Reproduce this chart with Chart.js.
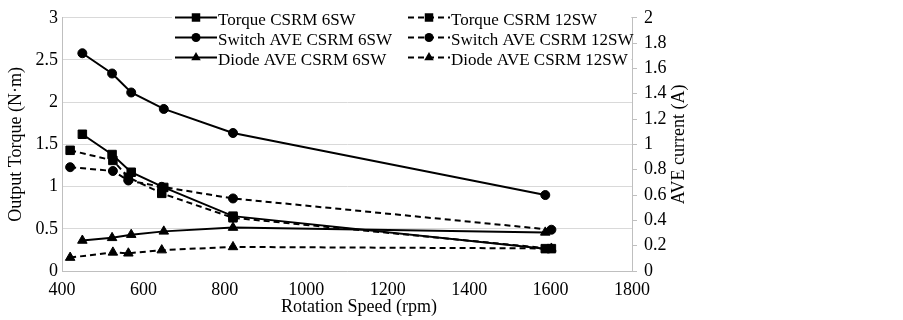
<!DOCTYPE html>
<html>
<head>
<meta charset="utf-8">
<script src="https://cdn.jsdelivr.net/npm/chart.js@4/dist/chart.umd.min.js"></script>
<style>
  html, body { margin: 0; padding: 0; background: #fff; }
  #wrap { width: 903px; height: 320px; }
</style>
</head>
<body>
<div id="wrap"><canvas id="torqueChart" width="903" height="320"></canvas></div>
<script>
  // rotation speeds (rpm)
  const speed6 = [450, 523, 570, 650, 820, 1587];
  const speed12 = [420, 525, 563, 645, 820, 1602];

  // output torque (N·m) - left axis
  const torque6 = [1.62, 1.38, 1.17, 0.99, 0.65, 0.265];
  const torque12 = [1.43, 1.31, 1.11, 0.92, 0.63, 0.265];

  // average currents (A) - right axis
  const switch6 = [1.72, 1.56, 1.41, 1.28, 1.09, 0.60];
  const switch12 = [0.82, 0.79, 0.715, 0.665, 0.573, 0.326];
  const diode6 = [0.241, 0.262, 0.287, 0.313, 0.343, 0.305];
  const diode12 = [0.106, 0.147, 0.14, 0.165, 0.19, 0.178];

  const seriesNames = [
    'Torque CSRM 6SW', 'Torque CSRM 12SW',
    'Switch AVE CSRM 6SW', 'Switch AVE CSRM 12SW',
    'Diode AVE CSRM 6SW', 'Diode AVE CSRM 12SW'
  ];

  const xTitle = 'Rotation Speed (rpm)';
  const yTitle = 'Output Torque (N·m)';
  const y1Title = 'AVE current (A)';

  const serif = "'Liberation Serif', 'Times New Roman', serif";
  Chart.defaults.font.family = serif;
  Chart.defaults.font.size = 18;
  Chart.defaults.color = '#000';

  function pts(xs, ys) {
    return xs.map((x, i) => ({ x: x, y: ys[i] }));
  }

  function makeSet(i, xs, ys, axis, style, dashed) {
    const r = style === 'circle' ? 4.5 : (style === 'rect' ? 6 : 5.5);
    return {
      label: seriesNames[i],
      data: pts(xs, ys),
      yAxisID: axis,
      borderColor: '#000',
      backgroundColor: '#000',
      borderWidth: 2,
      borderDash: dashed ? [6, 4] : [],
      pointStyle: style,
      pointRadius: r,
      pointBorderWidth: 1,
      tension: 0,
      fill: false
    };
  }

  const datasets = [
    makeSet(0, speed6, torque6, 'y', 'rect', false),
    makeSet(1, speed12, torque12, 'y', 'rect', true),
    makeSet(2, speed6, switch6, 'y1', 'circle', false),
    makeSet(3, speed12, switch12, 'y1', 'circle', true),
    makeSet(4, speed6, diode6, 'y1', 'triangle', false),
    makeSet(5, speed12, diode12, 'y1', 'triangle', true)
  ];

  function marker(ctx, style, x, y, r) {
    ctx.beginPath();
    if (style === 'circle') {
      ctx.arc(x, y, r, 0, Math.PI * 2);
    } else if (style === 'rect') {
      const s = r * Math.SQRT1_2;
      ctx.rect(x - s, y - s, 2 * s, 2 * s);
    } else {
      ctx.moveTo(x, y - r);
      ctx.lineTo(x + r * 0.866, y + r * 0.5);
      ctx.lineTo(x - r * 0.866, y + r * 0.5);
      ctx.closePath();
    }
    ctx.fill();
  }

  // legend sits inside the plot with a white box, two columns
  const boxLegend = {
    id: 'boxLegend',
    afterDatasetsDraw(chart) {
      const ctx = chart.ctx;
      ctx.save();
      ctx.fillStyle = '#fff';
      ctx.fillRect(172, 11, 459, 56);
      chart.data.datasets.forEach((ds, i) => {
        const col = i % 2, row = Math.floor(i / 2);
        const x0 = [175, 408][col];
        const y = 17.5 + row * 20;
        ctx.strokeStyle = '#000';
        ctx.fillStyle = '#000';
        ctx.lineWidth = 2;
        ctx.setLineDash(ds.borderDash);
        ctx.beginPath();
        ctx.moveTo(x0, y);
        ctx.lineTo(x0 + 42, y);
        ctx.stroke();
        ctx.setLineDash([]);
        marker(ctx, ds.pointStyle, x0 + 21, y, ds.pointRadius);
        ctx.font = '17px ' + serif;
        ctx.textBaseline = 'alphabetic';
        ctx.textAlign = 'left';
        ctx.fillText(ds.label, x0 + 43, y + 7);
      });
      ctx.restore();
    }
  };

  // x title sits a bit right of centre; right title reads bottom-to-top
  const axisTitles = {
    id: 'axisTitles',
    afterDraw(chart) {
      const ctx = chart.ctx;
      const a = chart.chartArea;
      ctx.save();
      ctx.font = '18px ' + serif;
      ctx.fillStyle = '#000';
      ctx.textAlign = 'center';
      ctx.textBaseline = 'middle';
      ctx.fillText(xTitle, 359, 307);
      ctx.translate(679, (a.top + a.bottom) / 2);
      ctx.rotate(-Math.PI / 2);
      ctx.fillText(y1Title, 0, 0);
      ctx.restore();
    }
  };

  const fmt = v => String(Math.round(v * 10) / 10);

  new Chart(document.getElementById('torqueChart').getContext('2d'), {
    type: 'line',
    data: { datasets: datasets },
    options: {
      responsive: false,
      animation: false,
      devicePixelRatio: 1,
      layout: { padding: { top: 10, right: 201, bottom: 0, left: 0 } },
      plugins: {
        legend: { display: false },
        tooltip: { enabled: false }
      },
      scales: {
        x: {
          type: 'linear',
          min: 400,
          max: 1800,
          ticks: { stepSize: 200, padding: 8, maxRotation: 0, callback: v => String(v) },
          grid: { display: false, drawTicks: false },
          border: { display: true, color: '#bfbfbf', width: 1 },
          afterFit: s => { s.height = 49; }
        },
        y: {
          position: 'left',
          min: 0,
          max: 3,
          ticks: { stepSize: 0.5, padding: 4, callback: fmt },
          grid: { color: '#d9d9d9', drawTicks: false },
          border: { display: true, color: '#bfbfbf', width: 1 },
          title: { display: true, text: yTitle, padding: { top: 5, bottom: 0 } },
          afterFit: s => { s.width = 62; }
        },
        y1: {
          position: 'right',
          min: 0,
          max: 2,
          ticks: { stepSize: 0.2, padding: 7, callback: fmt },
          grid: { drawOnChartArea: false, drawTicks: true, tickLength: 5, color: '#bfbfbf' },
          border: { display: true, color: '#bfbfbf', width: 1 },
          afterFit: s => { s.width = 70; }
        }
      }
    },
    plugins: [boxLegend, axisTitles]
  });
</script>
</body>
</html>
